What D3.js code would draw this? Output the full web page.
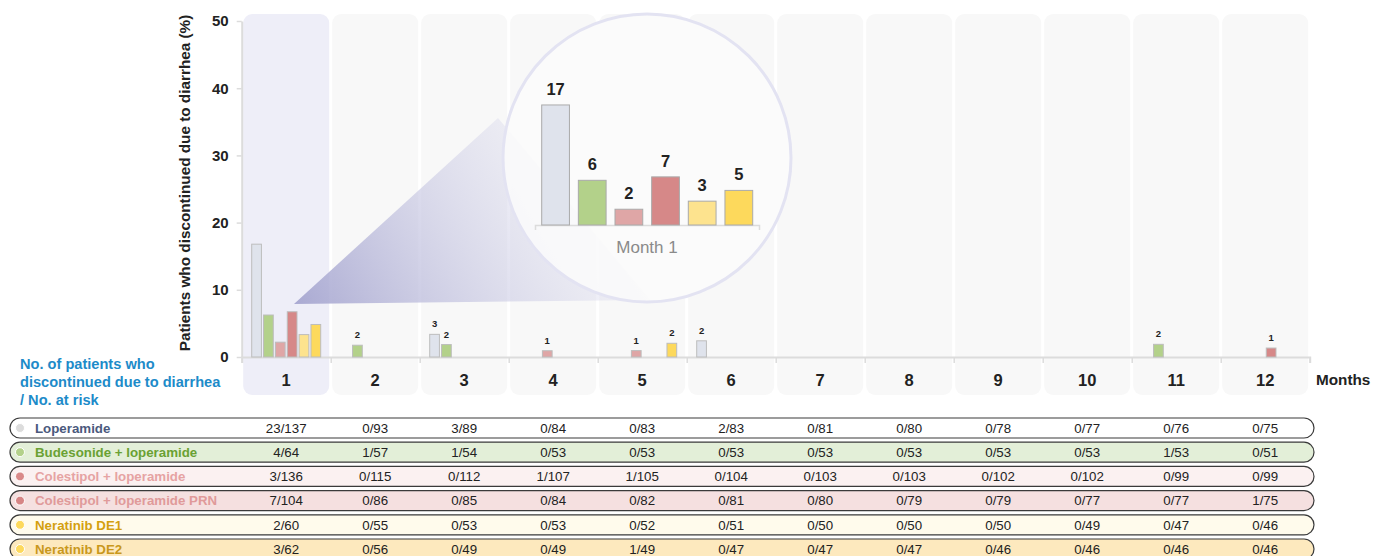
<!DOCTYPE html>
<html>
<head>
<meta charset="utf-8">
<script src="https://cdn.jsdelivr.net/npm/d3@7"></script>
<style>
  body { margin: 0; background: #fff; }
  svg { display: block; font-family: Arial, "Liberation Sans", sans-serif; }
</style>
</head>
<body>
<svg id="chart" width="1373" height="556"></svg>
<script>
const months = ["1", "2", "3", "4", "5", "6", "7", "8", "9", "10", "11", "12"];
const treatments = [
  "Loperamide",
  "Budesonide + loperamide",
  "Colestipol + loperamide",
  "Colestipol + loperamide PRN",
  "Neratinib DE1",
  "Neratinib DE2"
];

// patients who discontinued due to diarrhea, per month
const loperamideEvents = [23, 0, 3, 0, 0, 2, 0, 0, 0, 0, 0, 0];
const budesonideEvents = [4, 1, 1, 0, 0, 0, 0, 0, 0, 0, 1, 0];
const colestipolEvents = [3, 0, 0, 1, 1, 0, 0, 0, 0, 0, 0, 0];
const colestipolPrnEvents = [7, 0, 0, 0, 0, 0, 0, 0, 0, 0, 0, 1];
const de1Events = [2, 0, 0, 0, 0, 0, 0, 0, 0, 0, 0, 0];
const de2Events = [3, 0, 0, 0, 1, 0, 0, 0, 0, 0, 0, 0];

// patients at risk, per month
const loperamideAtRisk = [137, 93, 89, 84, 83, 83, 81, 80, 78, 77, 76, 75];
const budesonideAtRisk = [64, 57, 54, 53, 53, 53, 53, 53, 53, 53, 53, 51];
const colestipolAtRisk = [136, 115, 112, 107, 105, 104, 103, 103, 102, 102, 99, 99];
const colestipolPrnAtRisk = [104, 86, 85, 84, 82, 81, 80, 79, 79, 77, 77, 75];
const de1AtRisk = [60, 55, 53, 53, 52, 51, 50, 50, 50, 49, 47, 46];
const de2AtRisk = [62, 56, 49, 49, 49, 47, 47, 47, 46, 46, 46, 46];

const yTicks = [0, 10, 20, 30, 40, 50];

const eventsByTreatment = [loperamideEvents, budesonideEvents, colestipolEvents,
  colestipolPrnEvents, de1Events, de2Events];
const atRiskByTreatment = [loperamideAtRisk, budesonideAtRisk, colestipolAtRisk,
  colestipolPrnAtRisk, de1AtRisk, de2AtRisk];

const barColors = ["#dfe3ec", "#b3d18a", "#dfa6a6", "#d68888", "#fde38e", "#fdd95c"];
const dotColors = ["#dcdcdc", "#b3d18a", "#d98a8a", "#d68585", "#fdd95c", "#fdd95c"];
const nameColors = ["#4b5a7d", "#6aa133", "#e6a3a3", "#e09a9a", "#d4a00f", "#c9981c"];
const rowFills = ["#ffffff", "#e3efd8", "#fbf1f1", "#f5e0e0", "#fffbec", "#fde9be"];

const rows = [];
treatments.forEach((t, ti) => {
  months.forEach((m, mi) => {
    const n = eventsByTreatment[ti][mi];
    const risk = atRiskByTreatment[ti][mi];
    rows.push({ treatment: t, ti, month: m, mi, n, risk, pct: n / risk * 100 });
  });
});

const svg = d3.select("#chart");

const x = d3.scaleBand().domain(months).range([241.7, 1309.7]);
const inner = d3.scaleBand().domain(treatments).range([10, 79]).paddingInner(0.18);
const y = d3.scaleLinear().domain([0, 50]).range([357, 21]);

// column backgrounds
svg.append("g").selectAll("rect").data(months).join("rect")
  .attr("x", (d) => x(d) + 1.5)
  .attr("y", 14)
  .attr("width", x.bandwidth() - 3)
  .attr("height", 381)
  .attr("rx", 9)
  .attr("fill", (d) => d === "1" ? "#eeeef8" : "#f8f8f8");

// y axis
const yAxis = svg.append("g")
  .attr("transform", "translate(241.7,0)")
  .call(d3.axisLeft(y).tickValues(yTicks).tickSize(5).tickPadding(8).tickSizeOuter(0));
yAxis.select(".domain").attr("stroke", "#dcdcdc").attr("stroke-width", 2);
yAxis.selectAll(".tick line").attr("stroke", "#dcdcdc").attr("stroke-width", 1.5);
yAxis.selectAll(".tick text")
  .attr("font-size", 15).attr("font-weight", "bold").attr("fill", "#222")
  .attr("font-family", "Arial, Liberation Sans, sans-serif");

svg.append("text")
  .attr("transform", "translate(190,183) rotate(-90)")
  .attr("text-anchor", "middle")
  .attr("font-size", 15.3).attr("font-weight", "bold").attr("fill", "#222")
  .text("Patients who discontinued due to diarrhea (%)");

// x baseline with boundary ticks
const xEdges = d3.scaleLinear().domain([0, 12]).range([241.7, 1309.7]);
const xAxis = svg.append("g")
  .attr("transform", "translate(0,357)")
  .call(d3.axisBottom(xEdges).ticks(12).tickFormat("").tickSize(6).tickSizeOuter(6));
xAxis.select(".domain").attr("stroke", "#dcdcdc").attr("stroke-width", 2);
xAxis.selectAll(".tick line").attr("stroke", "#dcdcdc").attr("stroke-width", 1.5);

const monthAxis = svg.append("g")
  .attr("transform", "translate(0,357)")
  .call(d3.axisBottom(x).tickSize(0).tickPadding(17));
monthAxis.select(".domain").remove();
monthAxis.selectAll(".tick text")
  .attr("font-size", 16.5).attr("font-weight", "bold").attr("fill", "#222")
  .attr("font-family", "Arial, Liberation Sans, sans-serif");

svg.append("text")
  .attr("x", 1316).attr("y", 385)
  .attr("font-size", 15.3).attr("font-weight", "bold").attr("fill", "#222")
  .text("Months");

// bars
const barRows = rows.filter((d) => d.n > 0);
svg.append("g").selectAll("rect").data(barRows).join("rect")
  .attr("x", (d) => x(d.month) + inner(d.treatment))
  .attr("y", (d) => y(d.pct))
  .attr("width", inner.bandwidth())
  .attr("height", (d) => y(0) - y(d.pct))
  .attr("fill", (d) => barColors[d.ti])
  .attr("stroke", "#bdbdbd")
  .attr("stroke-width", 1);

svg.append("g").selectAll("text").data(barRows.filter((d) => d.month !== "1")).join("text")
  .attr("x", (d) => x(d.month) + inner(d.treatment) + inner.bandwidth() / 2)
  .attr("y", (d) => y(d.pct) - 7)
  .attr("text-anchor", "middle")
  .attr("font-size", 9.5).attr("font-weight", "bold").attr("fill", "#222")
  .text((d) => Math.round(d.pct));

// magnifier
const defs = svg.append("defs");
const grad = defs.append("linearGradient")
  .attr("id", "cone")
  .attr("gradientUnits", "userSpaceOnUse")
  .attr("x1", 294).attr("y1", 304).attr("x2", 560).attr("y2", 150);
grad.append("stop").attr("offset", 0).attr("stop-color", "#a6a6d0").attr("stop-opacity", 0.95);
grad.append("stop").attr("offset", 1).attr("stop-color", "#dcdcee").attr("stop-opacity", 0.3);

const magCx = 647;
const magCy = 158;
const magR = 144;

svg.append("path")
  .attr("d", d3.line()([[294, 304], [498, 118], [650, 300]]) + "Z")
  .attr("fill", "url(#cone)");

svg.append("circle")
  .attr("cx", magCx).attr("cy", magCy).attr("r", magR)
  .attr("fill", "#fafafa").attr("fill-opacity", 0.88)
  .attr("stroke", "#e3e3f2").attr("stroke-width", 3);

const magX = d3.scaleBand().domain(treatments).range([541.7, 752.7]).paddingInner(0.243);
const magY = d3.scaleLinear().domain([0, 20]).range([225, 82]);
const monthOne = rows.filter((d) => d.month === "1");

const magAxis = svg.append("g")
  .attr("transform", "translate(0,225)")
  .call(d3.axisBottom(d3.scaleLinear().range([535, 759])).tickValues([]).tickSizeOuter(5));
magAxis.select(".domain").attr("stroke", "#dcdcdc").attr("stroke-width", 1.5);

svg.append("g").selectAll("rect").data(monthOne).join("rect")
  .attr("x", (d) => magX(d.treatment))
  .attr("y", (d) => magY(d.pct))
  .attr("width", magX.bandwidth())
  .attr("height", (d) => magY(0) - magY(d.pct))
  .attr("fill", (d) => barColors[d.ti])
  .attr("stroke", "#aaaaaa")
  .attr("stroke-width", 1);

svg.append("g").selectAll("text").data(monthOne).join("text")
  .attr("x", (d) => magX(d.treatment) + magX.bandwidth() / 2)
  .attr("y", (d) => magY(d.pct) - 10)
  .attr("text-anchor", "middle")
  .attr("font-size", 16.5).attr("font-weight", "bold").attr("fill", "#222")
  .text((d) => Math.round(d.pct));

svg.append("text")
  .attr("x", magCx).attr("y", 253)
  .attr("text-anchor", "middle")
  .attr("font-size", 17).attr("fill", "#8a8a8a")
  .text("Month 1");

// risk table
const riskLabel = ["No. of patients who", "discontinued due to diarrhea", "/ No. at risk"];
svg.append("g").selectAll("text").data(riskLabel).join("text")
  .attr("x", 20)
  .attr("y", (d, i) => 369 + i * 18)
  .attr("font-size", 14.6).attr("font-weight", "bold").attr("fill", "#1d8bc9")
  .text((d) => d);

const rowY = (i) => 418 + i * 24.2;

const tableRows = svg.append("g").selectAll("g").data(treatments).join("g")
  .attr("transform", (d, i) => `translate(0,${rowY(i)})`);

tableRows.append("rect")
  .attr("x", 10).attr("y", 0)
  .attr("width", 1304).attr("height", 20)
  .attr("rx", 10)
  .attr("fill", (d, i) => rowFills[i])
  .attr("stroke", "#3a3a3a")
  .attr("stroke-width", 1.2);

tableRows.append("circle")
  .attr("cx", 20).attr("cy", 10).attr("r", 4.5)
  .attr("fill", (d, i) => dotColors[i])
  .attr("stroke", "#fff").attr("stroke-width", 1);

tableRows.append("text")
  .attr("x", 35).attr("y", 10).attr("dy", "0.36em")
  .attr("font-size", 13.3).attr("font-weight", "bold")
  .attr("fill", (d, i) => nameColors[i])
  .text((d) => d);

tableRows.selectAll("text.value")
  .data((d, i) => rows.filter((r) => r.ti === i))
  .join("text")
  .attr("class", "value")
  .attr("x", (d) => x(d.month) + x.bandwidth() / 2)
  .attr("y", 10).attr("dy", "0.36em")
  .attr("text-anchor", "middle")
  .attr("font-size", 13.3).attr("fill", "#222")
  .text((d) => `${d.n}/${d.risk}`);
</script>
</body>
</html>
